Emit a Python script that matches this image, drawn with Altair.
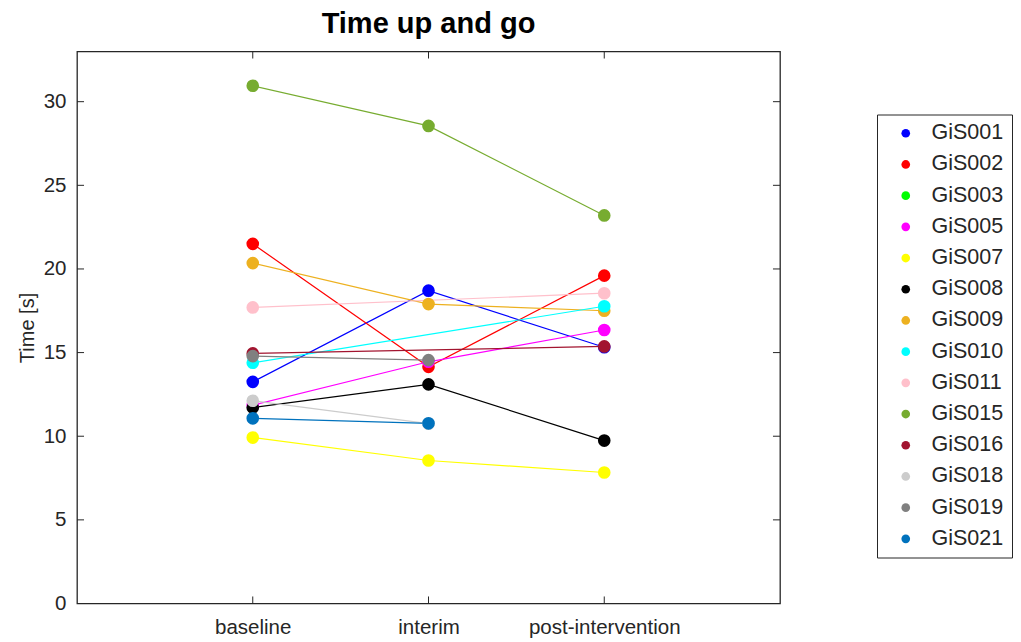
import altair as alt
import pandas as pd

subjects = ["GiS001", "GiS002", "GiS003", "GiS005", "GiS007", "GiS008", "GiS009",
            "GiS010", "GiS011", "GiS015", "GiS016", "GiS018", "GiS019", "GiS021"]
colors = ["#0000FF", "#FF0000", "#00FF00", "#FF00FF", "#FFFF00", "#000000", "#EDB120",
          "#00FFFF", "#FFC0CB", "#77AC30", "#A2142F", "#CCCCCC", "#808080", "#0072BD"]

phases = ["baseline", "interim", "post-intervention"]
phase_pos = [1, 2, 3]

# values per subject: baseline, interim, post-intervention (None = missing)
baseline = [13.25, 21.5, None, 11.85, 9.92, 11.71, 20.35, 14.39, 17.7, 30.95, 14.95, 12.12, 14.79, 11.07]
interim = [18.7, 14.15, None, 14.45, 8.55, 13.1, 17.9, None, None, 28.55, None, 10.75, 14.55, 10.77]
post = [15.32, 19.6, None, 16.35, 7.83, 9.74, 17.5, 17.77, 18.55, 23.2, 15.37, None, None, None]

y_ticks = [0, 5, 10, 15, 20, 25, 30]
y_max = 33
x_min, x_max = 0, 4

rows = []
for i, s in enumerate(subjects):
    for pos, vals in zip(phase_pos, [baseline, interim, post]):
        v = vals[i]
        if v is not None:
            rows.append({"subject": s, "line_subject": s, "order": i, "x": pos, "time": v})
df = pd.DataFrame(rows)

label_expr = "datum.value == 1 ? 'baseline' : datum.value == 2 ? 'interim' : datum.value == 3 ? 'post-intervention' : ''"

xscale = alt.Scale(domain=[x_min, x_max], nice=False, zero=False)
yscale = alt.Scale(domain=[0, y_max], nice=False)
cscale = alt.Scale(domain=subjects, range=colors)

FONT = "Liberation Sans"
AX = "#262626"

x_enc = alt.X("x:Q", scale=xscale,
              axis=alt.Axis(values=phase_pos, labelExpr=label_expr, title=None, grid=False,
                            ticks=False, domain=False, labelFontSize=20.5, labelColor=AX,
                            labelFont=FONT, labelPadding=14))
y_enc = alt.Y("time:Q", scale=yscale,
              axis=alt.Axis(values=y_ticks, title="Time [s]", grid=False, ticks=False,
                            domain=False, labelFontSize=20.5, labelColor=AX, labelFont=FONT,
                            labelPadding=11, titleFontSize=20, titleFont=FONT,
                            titleFontWeight="normal", titleColor=AX, titlePadding=6))

lines = alt.Chart(df).mark_line(strokeWidth=1.2).encode(
    x=x_enc, y=y_enc,
    color=alt.Color("line_subject:N", scale=alt.Scale(domain=subjects, range=colors), legend=None),
    detail="subject:N",
    order="x:Q",
)

points = alt.Chart(df).mark_circle(size=160, opacity=1).encode(
    x=alt.X("x:Q", scale=xscale),
    y=alt.Y("time:Q", scale=yscale),
    color=alt.Color("subject:N", scale=cscale,
                    legend=alt.Legend(title=None, orient="none", legendX=800, legendY=63,
                                      labelFontSize=21.5, labelFont=FONT, labelColor=AX,
                                      symbolType="circle", symbolSize=75, symbolStrokeWidth=0,
                                      symbolOpacity=1,
                                      padding=8, symbolOffset=10, labelOffset=15,
                                      rowPadding=8.2, strokeColor=AX, fillColor="white",
                                      values=subjects)),
)

# inner tick marks (MATLAB style)
tick_len_x = 0.04
tick_len_y = 0.42
ytick_df = pd.DataFrame({"y": y_ticks})
xtick_df = pd.DataFrame({"x": phase_pos})

yt_left = alt.Chart(ytick_df).mark_rule(color=AX, strokeWidth=1).encode(
    y=alt.Y("y:Q", scale=yscale), x=alt.datum(x_min, scale=xscale), x2=alt.datum(x_min + tick_len_x))
yt_right = alt.Chart(ytick_df).mark_rule(color=AX, strokeWidth=1).encode(
    y=alt.Y("y:Q", scale=yscale), x=alt.datum(x_max - tick_len_x, scale=xscale), x2=alt.datum(x_max))
xt_bottom = alt.Chart(xtick_df).mark_rule(color=AX, strokeWidth=1).encode(
    x=alt.X("x:Q", scale=xscale), y=alt.datum(0, scale=yscale), y2=alt.datum(tick_len_y))
xt_top = alt.Chart(xtick_df).mark_rule(color=AX, strokeWidth=1).encode(
    x=alt.X("x:Q", scale=xscale), y=alt.datum(y_max - tick_len_y, scale=yscale), y2=alt.datum(y_max))

chart = alt.layer(lines, points, yt_left, yt_right, xt_bottom, xt_top).resolve_scale(
    color="independent"
).properties(
    width=703, height=552,
    title=alt.Title("Time up and go", fontSize=29, font=FONT, fontWeight="bold",
                    color="#000000", anchor="middle", offset=12),
    autosize=alt.AutoSizeParams(type="none"),
    padding={"left": 69, "top": 43.5, "right": 233, "bottom": 38},
    background="white",
).configure_view(stroke=AX, strokeWidth=1.3)

chart.save("out.html", embed_options={"renderer": "svg", "actions": False})
